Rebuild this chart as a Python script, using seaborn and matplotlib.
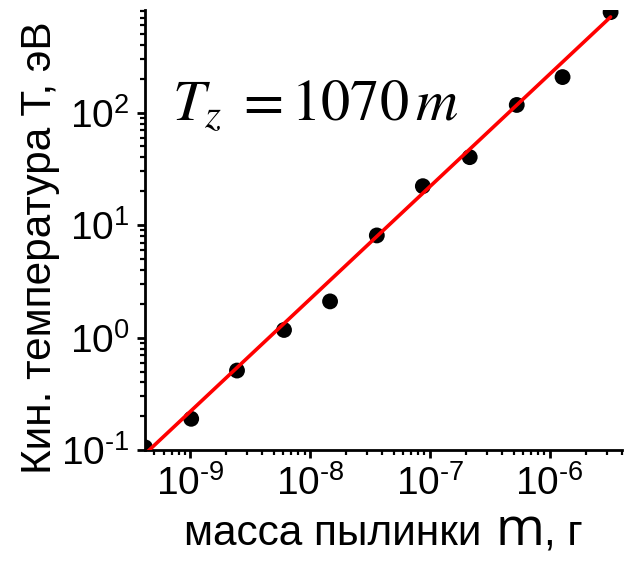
import numpy as np
import pandas as pd
import matplotlib
matplotlib.use("Agg")
import matplotlib.pyplot as plt
from matplotlib.ticker import LogLocator, NullFormatter
from matplotlib.offsetbox import TextArea, HPacker, AnchoredOffsetbox, DrawingArea
import seaborn as sns

# Измерения: масса пылинки (г) и кинетическая температура (эВ)
mass_g = [4.2e-10, 1.02e-9, 2.46e-9, 6.07e-9, 1.47e-8, 3.61e-8,
          8.74e-8, 2.15e-7, 5.31e-7, 1.28e-6, 3.22e-6]
temp_ev = [0.106, 0.19, 0.51, 1.17, 2.1, 8.1, 22.2, 40.2, 117, 207, 782]

# Линейная аппроксимация T ~ m
fit_mass = [4.4e-10, 3.22e-6]
fit_coef = 2.2e8

x_ticks = [1e-9, 1e-8, 1e-7, 1e-6]
x_exps = ["-9", "-8", "-7", "-6"]
y_ticks = [1e-1, 1e0, 1e1, 1e2]
y_exps = ["-1", "0", "1", "2"]

sns.set_theme(style="ticks")
plt.rcParams["font.family"] = ["Liberation Sans", "DejaVu Sans"]
plt.rcParams["mathtext.fontset"] = "custom"
plt.rcParams["mathtext.rm"] = "Liberation Sans"
plt.rcParams["mathtext.it"] = "Liberation Sans:italic"
for key in ("text.color", "axes.labelcolor", "xtick.color", "ytick.color",
            "axes.edgecolor"):
    plt.rcParams[key] = "black"


def power_label(exp):
    return r"$\mathdefault{10^{\text{" + exp + r"}}}$"


fig = plt.figure(figsize=(6.25, 5.62), dpi=100)
ax = fig.add_axes([0.232, 0.199, 0.763, 0.783])

pts = pd.DataFrame({"m": mass_g, "T": temp_ev})
fit = pd.DataFrame({"m": fit_mass, "T": [fit_coef * v for v in fit_mass]})

sns.scatterplot(data=pts, x="m", y="T", ax=ax, color="black", s=130,
                edgecolor="none", zorder=2)
sns.lineplot(data=fit, x="m", y="T", ax=ax, color="#ff0000", lw=2.6,
             zorder=3)

ax.set_xscale("log")
ax.set_yscale("log")
ax.set_xlim(4.2e-10, 4.0e-6)
ax.set_ylim(0.1, 815)
ax.set_xticks(x_ticks, [power_label(e) for e in x_exps])
ax.set_yticks(y_ticks, [power_label(e) for e in y_exps])
ax.xaxis.set_minor_locator(LogLocator(base=10, subs=np.arange(2, 10)))
ax.yaxis.set_minor_locator(LogLocator(base=10, subs=np.arange(2, 10)))
ax.xaxis.set_minor_formatter(NullFormatter())
ax.yaxis.set_minor_formatter(NullFormatter())

for side in ("top", "right"):
    ax.spines[side].set_visible(False)
for side in ("left", "bottom"):
    ax.spines[side].set_linewidth(2.0)

ax.tick_params(which="major", length=6, width=2, labelsize=28, pad=5)
ax.tick_params(which="minor", length=3.5, width=1.6)

ax.set_xlabel("")
ax.set_ylabel("Кин. температура T, эВ", fontsize=30.5)
ax.yaxis.set_label_coords(-0.178, 0.459)

# Подпись оси X: «m» набрано крупнее
lbl = HPacker(children=[
    TextArea("масса пылинки", textprops=dict(fontsize=30.5)),
    DrawingArea(10, 1),
    TextArea("m", textprops=dict(fontsize=38, family=["Open Sans", "DejaVu Sans"])),
    TextArea(", г", textprops=dict(fontsize=30.5)),
], align="baseline", pad=0, sep=0)
box = AnchoredOffsetbox(loc="center", child=lbl, pad=0, borderpad=0,
                        bbox_to_anchor=(0.613, 0.055),
                        bbox_transform=fig.transFigure, frameon=False)
fig.add_artist(box)

ax.text(0.057, 0.75, r"$T_z\;=1070\,m$", transform=ax.transAxes,
        fontsize=42, math_fontfamily="stix", color="black")

fig.savefig("out.png", dpi=100)
